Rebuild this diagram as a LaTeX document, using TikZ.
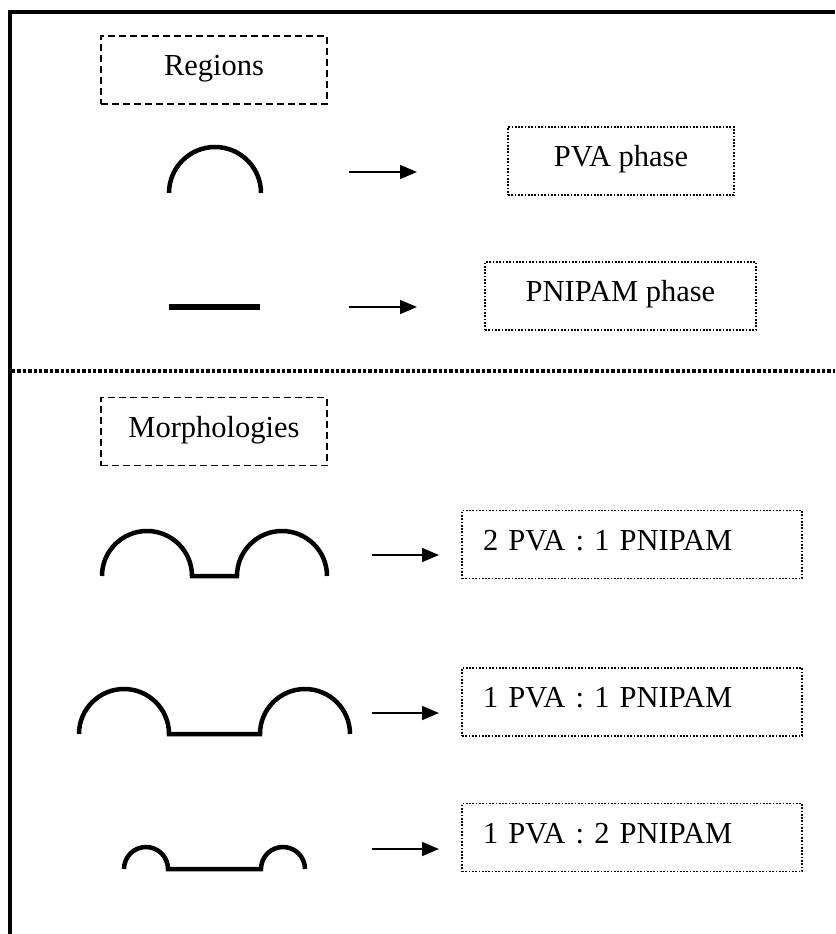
\documentclass[tikz,border=0pt]{standalone}
\usepackage{fontspec}
\setmainfont{Liberation Serif}
\usetikzlibrary{arrows.meta}

\begin{document}
\begin{tikzpicture}[
    x=1pt, y=-1pt,
    font=\fontsize{30.5}{36}\selectfont,
    labelbox/.style={rectangle, draw, line width=1.8pt, dash pattern=on 7pt off 4pt, minimum width=226pt, minimum height=68pt, text height=20pt, text depth=9pt},
    phasebox/.style={rectangle, draw, line width=1.8pt, dash pattern=on 1.7pt off 1.6pt, minimum height=68pt, text height=20pt, text depth=9pt},
    ratiobox/.style={phasebox, minimum width=340pt, text width=298pt, align=left},
    arrow/.style={-{Triangle[length=17pt, width=14pt]}, line width=1.7pt},
    chain/.style={line width=4.5pt}
]
\useasboundingbox (0,0) rectangle (835,934);

% Frame and separator
\draw[line width=3.5pt] (10,934) |- (835,12);
\draw[line width=3.2pt, dash pattern=on 3.4pt off 2pt] (12,371) -- (835,371);

% Boxes
\node[labelbox] (regions) at (214,70) {Regions};
\node[labelbox] (morph) at (214,431.5) {Morphologies};
\node[phasebox, minimum width=226pt] (pva) at (621,161) {PVA phase};
\node[phasebox, minimum width=271pt] (pnipam) at (620.5,296) {PNIPAM phase};
\node[ratiobox] (twoone) at (632,544.5) {2 PVA : 1 PNIPAM};
\node[ratiobox] (oneone) at (632,702) {1 PVA : 1 PNIPAM};
\node[ratiobox] (onetwo) at (632,837.5) {1 PVA : 2 PNIPAM};

% Region shapes
\draw[chain] (169,193) arc[start angle=180, end angle=0, radius=46pt];
\draw[line width=5.5pt] (169,307) -- (260,307);

% Morphology shapes
\draw[chain] (102,576) arc[start angle=180, end angle=0, radius=45pt] -- (237,576)
    arc[start angle=180, end angle=0, radius=45pt];
\draw[chain] (79,734) arc[start angle=180, end angle=0, radius=45pt] -- (260,734)
    arc[start angle=180, end angle=0, radius=45pt];
\draw[chain] (124,869) arc[start angle=180, end angle=0, radius=22pt] -- (261,869)
    arc[start angle=180, end angle=0, radius=22pt];

% Arrows
\coordinate (a1s) at (349,172); \coordinate (a1e) at (417,172);
\coordinate (a2s) at (349,307); \coordinate (a2e) at (417,307);
\coordinate (a3s) at (372,555); \coordinate (a3e) at (439,555);
\coordinate (a4s) at (372,713); \coordinate (a4e) at (439,713);
\coordinate (a5s) at (372,849); \coordinate (a5e) at (439,849);
\draw[arrow] (a1s) -- (a1e);
\draw[arrow] (a2s) -- (a2e);
\draw[arrow] (a3s) -- (a3e);
\draw[arrow] (a4s) -- (a4e);
\draw[arrow] (a5s) -- (a5e);
\end{tikzpicture}
\end{document}
